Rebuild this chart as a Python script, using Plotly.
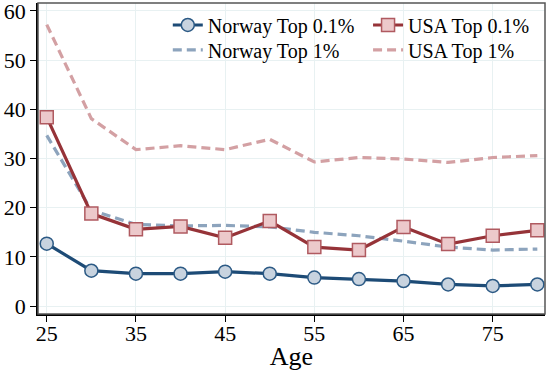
import plotly.graph_objects as go

ages = [25, 30, 35, 40, 45, 50, 55, 60, 65, 70, 75, 80]
norway_top01 = [12.7, 7.2, 6.6, 6.6, 7.0, 6.6, 5.8, 5.5, 5.1, 4.4, 4.1, 4.4]
usa_top01 = [38.4, 18.8, 15.6, 16.2, 13.9, 17.3, 12.0, 11.4, 16.1, 12.6, 14.3, 15.4]
norway_top1 = [34.7, 19.5, 16.6, 16.3, 16.4, 16.1, 15.0, 14.3, 13.2, 12.0, 11.4, 11.6]
usa_top1 = [57.2, 38.1, 31.8, 32.6, 31.8, 33.9, 29.3, 30.2, 29.9, 29.2, 30.2, 30.6]

x_ticks = [25, 35, 45, 55, 65, 75]
y_ticks = [0, 10, 20, 30, 40, 50, 60]

FONT = "Liberation Serif"
NAVY = "#1d4b76"
RED = "#963338"

fig = go.Figure()
fig.add_trace(go.Scatter(
    x=ages, y=norway_top1, name="Norway Top 1%", mode="lines",
    line=dict(color="#8da4bd", width=3.2, dash="9px,5px"), legend="legend2"))
fig.add_trace(go.Scatter(
    x=ages, y=usa_top1, name="USA Top 1%", mode="lines",
    line=dict(color="#d3a0a3", width=3.2, dash="9px,5px"), legend="legend4"))
fig.add_trace(go.Scatter(
    x=ages, y=usa_top01, name="USA Top 0.1%", mode="lines+markers",
    line=dict(color=RED, width=3.2),
    marker=dict(symbol="square", size=13, color="#ecc9cb",
                line=dict(color="#b05a60", width=1.5)), legend="legend3"))
fig.add_trace(go.Scatter(
    x=ages, y=norway_top01, name="Norway Top 0.1%", mode="lines+markers",
    line=dict(color=NAVY, width=3.2),
    marker=dict(symbol="circle", size=13, color="#c8d3df",
                line=dict(color="#2c5a85", width=1.5)), legend="legend"))

# frame
fig.add_shape(type="rect", xref="paper", yref="paper", x0=0, y0=0, x1=1, y1=1,
              line=dict(color="#555555", width=1.5), layer="above")

def leg(x, y):
    return dict(x=x, y=y, xanchor="left", yanchor="top",
                bgcolor="rgba(0,0,0,0)", font=dict(family=FONT, size=20))

fig.update_layout(
    width=550, height=371,
    margin=dict(l=38, r=5, t=3, b=57),
    paper_bgcolor="white", plot_bgcolor="white",
    font=dict(family=FONT, size=22, color="black"),
    showlegend=True,
    legend=leg(0.256, 0.992),
    legend2=leg(0.256, 0.912),
    legend3=leg(0.651, 0.992),
    legend4=leg(0.651, 0.912),
    xaxis=dict(range=[24.02, 80.86], tickvals=x_ticks, ticks="outside",
               ticklen=6, tickcolor="black", showline=True, linecolor="black",
               linewidth=1.5, showgrid=True, gridcolor="#e8f1f2", gridwidth=1,
               zeroline=False, title=dict(text="Age", standoff=4),
               tickfont=dict(size=22), automargin=False,
               ticklabeloverflow="allow", ticklabelstandoff=-7),
    yaxis=dict(range=[-1.6, 61.6], tickvals=y_ticks, ticks="outside",
               ticklen=6, tickcolor="black", showline=True, linecolor="black",
               linewidth=1.5, showgrid=True, gridcolor="#e8f1f2", gridwidth=1,
               zeroline=False, tickfont=dict(size=22), automargin=False,
               ticklabeloverflow="allow"),
)

fig.write_html("out.html")
